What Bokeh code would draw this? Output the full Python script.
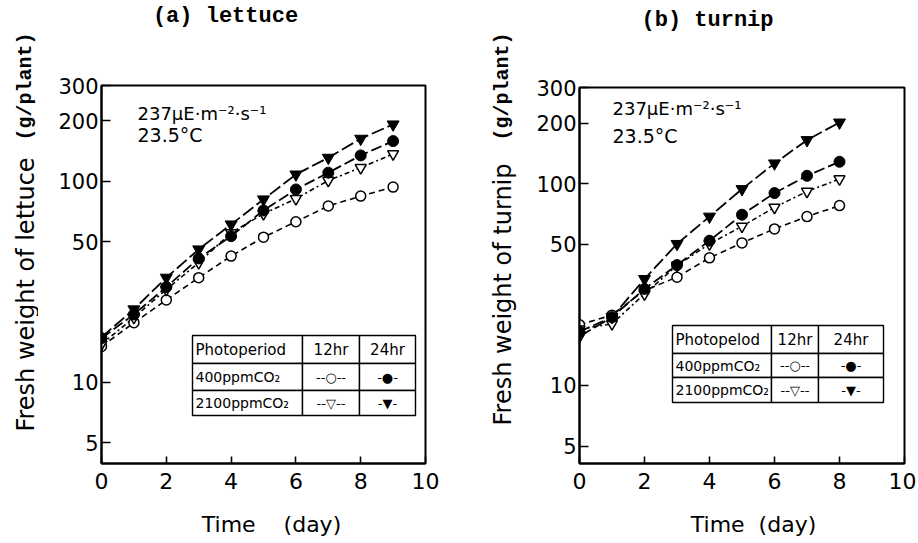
import math
from bokeh.plotting import figure
from bokeh.models import Label, BoxAnnotation, FixedTicker, Range1d, NumeralTickFormatter
from bokeh.layouts import row, column
from bokeh.embed import file_html
from bokeh.resources import INLINE

# ---------------- data ----------------
days_lettuce = [0, 1, 2, 3, 4, 5, 6, 7, 8, 9]
lettuce_400_12h = [15.1, 19.8, 25.7, 33.2, 42.5, 52.8, 63.0, 75.4, 84.5, 93.7]
lettuce_400_24h = [16.6, 21.8, 29.8, 41.4, 53.4, 71.7, 91.2, 110.5, 134.7, 158.7]
lettuce_2100_12h = [15.5, 21.0, 29.0, 39.4, 55.5, 69.0, 82.0, 101.0, 117.0, 137.0]
lettuce_2100_24h = [16.8, 23.1, 33.2, 45.9, 61.1, 81.4, 108.3, 131.2, 163.1, 192.1]

days_turnip = [0, 1, 2, 3, 4, 5, 6, 7, 8]
turnip_400_12h = [20.0, 22.3, 29.6, 34.4, 42.9, 50.9, 59.7, 68.7, 77.9]
turnip_400_24h = [18.5, 21.8, 30.1, 39.5, 52.2, 70.2, 89.9, 109.5, 128.5]
turnip_2100_12h = [19.0, 20.2, 28.4, 39.3, 50.3, 61.5, 76.3, 91.6, 105.5]
turnip_2100_24h = [17.5, 21.8, 33.7, 50.3, 68.7, 94.1, 126.1, 164.6, 201.2]

x_ticks = [0, 2, 4, 6, 8, 10]
y_ticks = [5, 10, 50, 100, 200, 300]

titles = ["(a) lettuce", "(b) turnip"]
ylabels_main = ["Fresh weight of lettuce", "Fresh weight of turnip"]
ylabel_unit = "(g/plant)"
xlabels = ["Time\u00a0\u00a0\u00a0\u00a0(day)", "Time\u00a0\u00a0(day)"]
cond_line1 = "237μE·m⁻²·s⁻¹"
cond_line2 = "23.5°C"
table_header = [["Photoperiod", "12hr", "24hr"], ["Photopelod", "12hr", "24hr"]]
table_rows = [["400ppmCO₂", "--○--", "-●-"], ["2100ppmCO₂", "--▽--", "-▼-"]]

SANS = "DejaVu Sans"
MONO = "Liberation Mono"
TOP_H = 38      # title strip height
MAIN_H = 470    # main plot height
BOT_H = 34      # x-label strip height
FULL_H = TOP_H + MAIN_H + BOT_H


def lab(p, x, y, text, font=SANS, size="16px", align="left", baseline="middle",
        angle=0.0, style="normal"):
    p.add_layout(Label(x=x, y=y, x_units="canvas", y_units="canvas", text=text,
                       text_font=font, text_font_size=size, text_align=align,
                       text_baseline=baseline, angle=angle, text_color="black",
                       text_font_style=style))


def blank_fig(w, h):
    f = figure(width=w, height=h, x_range=Range1d(0, w), y_range=Range1d(0, h),
               output_backend="svg", toolbar_location=None, min_border=0,
               x_axis_location=None, y_axis_location=None, title=None)
    f.grid.visible = False
    f.outline_line_color = None
    f.background_fill_color = "white"
    f.border_fill_color = "white"
    return f


def make_fig(frame_left, frame_w, frame_top, frame_h, total_w, ylo):
    p = figure(frame_width=frame_w, frame_height=frame_h,
               x_range=Range1d(0, 10), y_range=Range1d(ylo, 300),
               y_axis_type="log", output_backend="svg", toolbar_location=None, title=None,
               min_border_left=frame_left, min_border_right=total_w - frame_left - frame_w,
               min_border_top=frame_top, min_border_bottom=MAIN_H - frame_top - frame_h)
    p.xgrid.visible = False
    p.ygrid.visible = False
    p.outline_line_color = "black"
    p.outline_line_width = 2
    p.background_fill_color = "white"
    p.border_fill_color = "white"
    for ax in (p.xaxis[0], p.yaxis[0]):
        ax.axis_line_width = 2
        ax.axis_line_color = "black"
        ax.major_tick_line_width = 1.6
        ax.major_tick_line_color = "black"
        ax.major_tick_out = 0
        ax.minor_tick_line_color = None
        ax.major_label_text_font = SANS
        ax.major_label_text_color = "black"
    p.xaxis.ticker = FixedTicker(ticks=x_ticks)
    p.yaxis.ticker = FixedTicker(ticks=y_ticks)
    p.yaxis.formatter = NumeralTickFormatter(format="0")
    p.xaxis.major_tick_in = 7
    p.yaxis.major_tick_in = 9
    p.yaxis.major_label_text_font_size = "21px"
    p.xaxis.major_label_text_font_size = "22px"
    p.yaxis.major_label_standoff = 3
    p.xaxis.major_label_standoff = 9
    return p


def add_series(p, days, s400_12, s400_24, s2100_12, s2100_24):
    p.line(days, s400_12, line_color="black", line_width=1.6, line_dash="6 4")
    p.line(days, s2100_12, line_color="black", line_width=1.6, line_dash="5 3 2 3")
    p.line(days, s400_24, line_color="black", line_width=1.8, line_dash="11 4")
    p.line(days, s2100_24, line_color="black", line_width=1.8, line_dash="13 4")
    p.scatter(days, s400_12, marker="circle", size=10, fill_color="white",
              line_color="black", line_width=1.5)
    p.scatter(days, s2100_12, marker="inverted_triangle", size=11, fill_color="white",
              line_color="black", line_width=1.5)
    p.scatter(days, s400_24, marker="circle", size=11, fill_color="black",
              line_color="black", line_width=1)
    p.scatter(days, s2100_24, marker="inverted_triangle", size=12, fill_color="black",
              line_color="black", line_width=1)


def add_table(p, xs, ys, header):
    rows = [header] + table_rows
    for r in range(3):
        for c in range(3):
            p.add_layout(BoxAnnotation(left=xs[c], right=xs[c + 1], top=ys[r], bottom=ys[r + 1],
                                       left_units="canvas", right_units="canvas",
                                       top_units="canvas", bottom_units="canvas",
                                       fill_color="white", fill_alpha=1.0,
                                       line_color="black", line_alpha=1.0, line_width=1.4))
            yc = (ys[r] + ys[r + 1]) / 2
            if c == 0:
                sz = "15px" if r == 0 else "14px"
                lab(p, xs[0] + 3, yc, rows[r][c], size=sz)
            else:
                sz = "15px" if r == 0 else "13px"
                lab(p, (xs[c] + xs[c + 1]) / 2, yc, rows[r][c], size=sz, align="center")


# ---------------- panel (a) ----------------
pa = make_fig(63, 324, 47, 378, 430, 3.95)
add_series(pa, days_lettuce, lettuce_400_12h, lettuce_400_24h, lettuce_2100_12h, lettuce_2100_24h)
lab(pa, 99, 75, cond_line1, size="18px")
lab(pa, 99, 96, cond_line2, size="19px")
add_table(pa, [154, 264, 321, 377], [297, 325, 352, 377], table_header[0])

title_a = blank_fig(430, TOP_H)
lab(title_a, 187, 16, titles[0], font=MONO, size="22px", align="center", style="bold")
xlab_a = blank_fig(430, BOT_H)
lab(xlab_a, 233, 16, xlabels[0], size="22px", align="center")

ylab_a = blank_fig(38, FULL_H)
lab(ylab_a, 25, 294, ylabels_main[0], size="24px", align="center", baseline="alphabetic",
    angle=math.pi / 2)
lab(ylab_a, 25, 86, ylabel_unit, font=MONO, size="20px", align="center", baseline="alphabetic",
    angle=math.pi / 2, style="bold")

# ---------------- panel (b) ----------------
pb = make_fig(56, 325, 49, 376, 393, 4.1)
add_series(pb, days_turnip, turnip_400_12h, turnip_400_24h, turnip_2100_12h, turnip_2100_24h)
lab(pb, 89, 70, cond_line1, size="18px")
lab(pb, 89, 97, cond_line2, size="19px")
add_table(pb, [149, 248, 295, 360], [287, 315, 339, 364], table_header[1])

title_b = blank_fig(393, TOP_H)
lab(title_b, 184, 20, titles[1], font=MONO, size="22px", align="center", style="bold")
xlab_b = blank_fig(393, BOT_H)
lab(xlab_b, 230, 16, xlabels[1], size="22px", align="center")

ylab_b = blank_fig(55, FULL_H)
lab(ylab_b, 34, 294, ylabels_main[1], size="24px", align="center", baseline="alphabetic",
    angle=math.pi / 2)
lab(ylab_b, 34, 86, ylabel_unit, font=MONO, size="20px", align="center", baseline="alphabetic",
    angle=math.pi / 2, style="bold")

layout = row(ylab_a, column(title_a, pa, xlab_a), ylab_b, column(title_b, pb, xlab_b))
open("out.html", "w").write(file_html(layout, INLINE))
